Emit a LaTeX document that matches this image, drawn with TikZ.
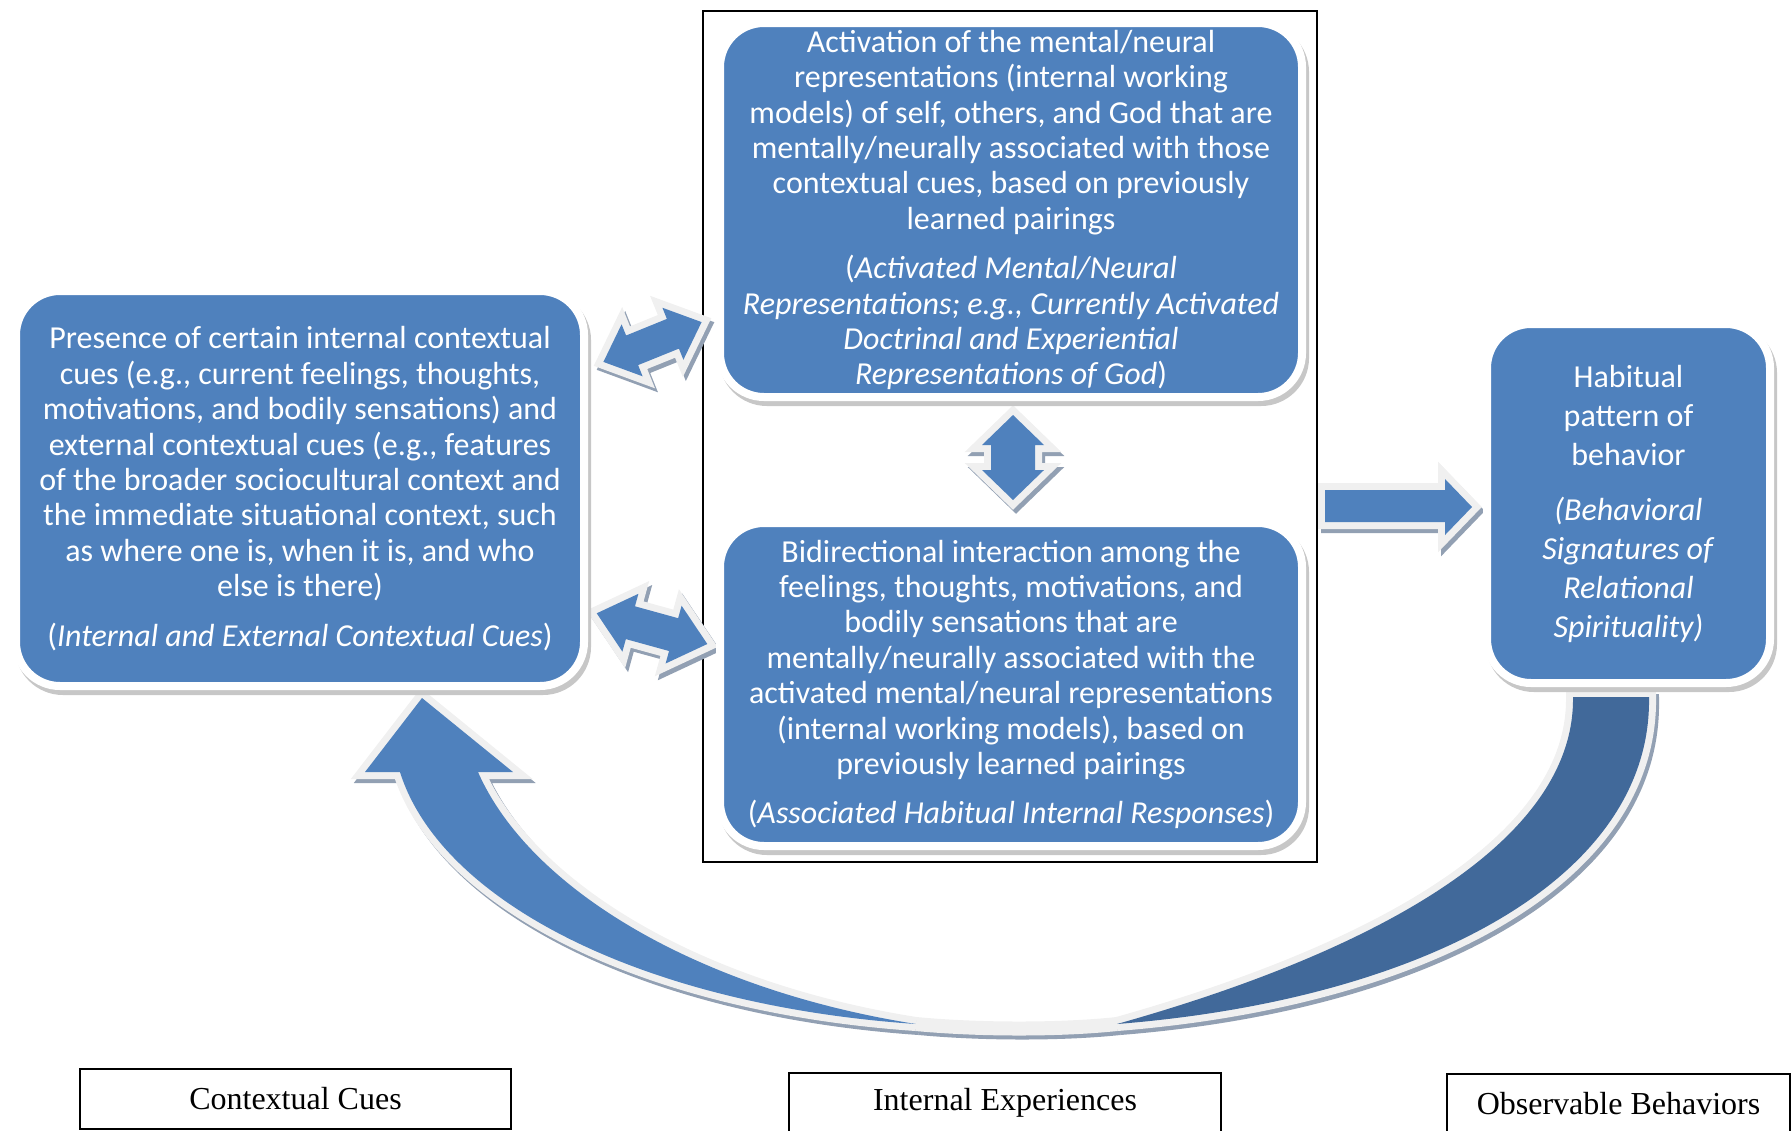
\documentclass[tikz,border=0pt]{standalone}
\usepackage{fontspec}
\setmainfont{Carlito}
\newfontfamily\labelfont{Liberation Serif}
\usepackage{xcolor}
\usepackage{tikz}
\usetikzlibrary{shadows}
\definecolor{boxblue}{RGB}{79,129,189}
\definecolor{backblue}{RGB}{65,105,154}
\definecolor{rimgray}{RGB}{240,240,240}
\definecolor{shadegray}{RGB}{146,160,179}
\tikzstyle{bluebox} = [rectangle, rounded corners=22pt, fill=boxblue, draw=white, line width=4pt, text=white, align=center, inner sep=0pt, drop shadow={shadow xshift=1.5pt, shadow yshift=-2.5pt, fill=black!22, draw=black!22, line width=4pt, opacity=1}]
\tikzstyle{boxtext} = [font=\fontsize{16pt}{17.7pt}\selectfont]
\tikzstyle{arrowshade} = [preaction={draw=shadegray, fill=shadegray, line width=7pt, transform canvas={shift={(1.5pt,-2pt)}}}]
\tikzstyle{blockarrow} = [line join=miter, miter limit=3, arrowshade, preaction={draw=rimgray, fill=rimgray, line width=7pt}]
\tikzstyle{labelbox} = [draw=black, line width=1pt, fill=white, inner sep=0pt, font=\labelfont\fontsize{16pt}{19pt}\selectfont]

\begin{document}
\begin{tikzpicture}[x=0.5pt, y=-0.5pt]
          \useasboundingbox (0,0) rectangle (1792,1130);
          \clip (0,0) rectangle (1792,1130);
          % frame round the internal experiences
          \draw[line width=1pt] (703,11) rectangle (1317,862);

          % curved arrow back to the cues
          \path[arrowshade] (916,1024) .. controls (980,1030) and (1060,1030) .. (1117,1024);
          \fill[blockarrow, backblue] (1573,697) -- (1649,697) .. controls (1652,880) and (1420,1000) .. (1117,1024) .. controls (1380,950) and (1575,840) .. (1573,697) -- cycle;
          \fill[blockarrow, boxblue] (422,698) -- (513,772) -- (478,772) .. controls (530,890) and (700,990) .. (916,1024) .. controls (640,1005) and (440,900) .. (400,772) -- (365,772) -- cycle;
          \draw[rimgray, line width=7pt] (916,1024) .. controls (980,1030) and (1060,1030) .. (1117,1024);

          % double arrows
          \fill[blockarrow, boxblue] (701.6,322.1) -- (683.4,359.75) -- (678.9,348.6) -- (638.1,365.1) -- (642.6,376.3) -- (603.4,361.9) -- (621.6,324.3) -- (626.1,335.5) -- (666.9,318.9) -- (662.4,307.75) -- cycle;
          \fill[blockarrow, boxblue] (707.3,644) -- (665.6,663.5) -- (669.05,651) -- (625.85,639.1) -- (622.4,651.6) -- (596.7,613.3) -- (638.4,593.8) -- (634.95,606.3) -- (678.15,618.2) -- (681.6,605.7) -- cycle;
          \fill[blockarrow, boxblue] (1013,415) -- (1044,445) -- (1035,445) -- (1035,470) -- (1044,470) -- (1013,500) -- (982,470) -- (991,470) -- (991,445) -- (982,445) -- cycle;
          % arrow to behavior
          \fill[blockarrow, boxblue] (1325,490) -- (1445,490) -- (1445,479) -- (1472,507) -- (1445,535) -- (1445,522) -- (1325,522) -- cycle;

          % boxes
          \node[bluebox, boxtext, minimum width=284pt, minimum height=197.5pt] (cues) at (300,488.5) {Presence of certain internal contextual\\ cues (e.g., current feelings, thoughts,\\ motivations, and bodily sensations) and\\ external contextual cues (e.g., features\\ of the broader sociocultural context and\\ the immediate situational context, such\\ as where one is, when it is, and who\\ else is there)\\[7pt] (\textit{Internal and External Contextual Cues})};
          \node[bluebox, boxtext, minimum width=291pt, minimum height=187pt] (reps) at (1011,210) {Activation of the mental/neural\\ representations (internal working\\ models) of self, others, and God that are\\ mentally/neurally associated with those\\ contextual cues, based on previously\\ learned pairings\\[7pt] (\textit{Activated Mental/Neural}\\ \textit{Representations; e.g., Currently Activated}\\ \textit{Doctrinal and Experiential}\\ \textit{Representations of God})};
          \node[bluebox, boxtext, minimum width=291pt, minimum height=161.5pt] (resp) at (1011,684.5) {Bidirectional interaction among the\\ feelings, thoughts, motivations, and\\ bodily sensations that are\\ mentally/neurally associated with the\\ activated mental/neural representations\\ (internal working models), based on\\ previously learned pairings\\[7pt] (\textit{Associated Habitual Internal Responses})};
          \node[bluebox, font=\fontsize{16pt}{19.5pt}\selectfont, minimum width=141.5pt, minimum height=179.5pt] (habit) at (1628.5,503.5) {Habitual\\ pattern of\\ behavior\\[8pt] \textit{(Behavioral}\\ \textit{Signatures of}\\ \textit{Relational}\\ \textit{Spirituality)}};

          % column labels
          \node[labelbox, minimum width=215.5pt, minimum height=30pt] (cuelabel) at (295.5,1098.5) {Contextual Cues};
          \node[labelbox, minimum width=216pt, minimum height=30pt] (explabel) at (1005,1102.5) {Internal Experiences};
          \node[labelbox, minimum width=171.5pt, minimum height=30pt] (behlabel) at (1618.5,1104) {Observable Behaviors};
        \end{tikzpicture}
\end{document}
